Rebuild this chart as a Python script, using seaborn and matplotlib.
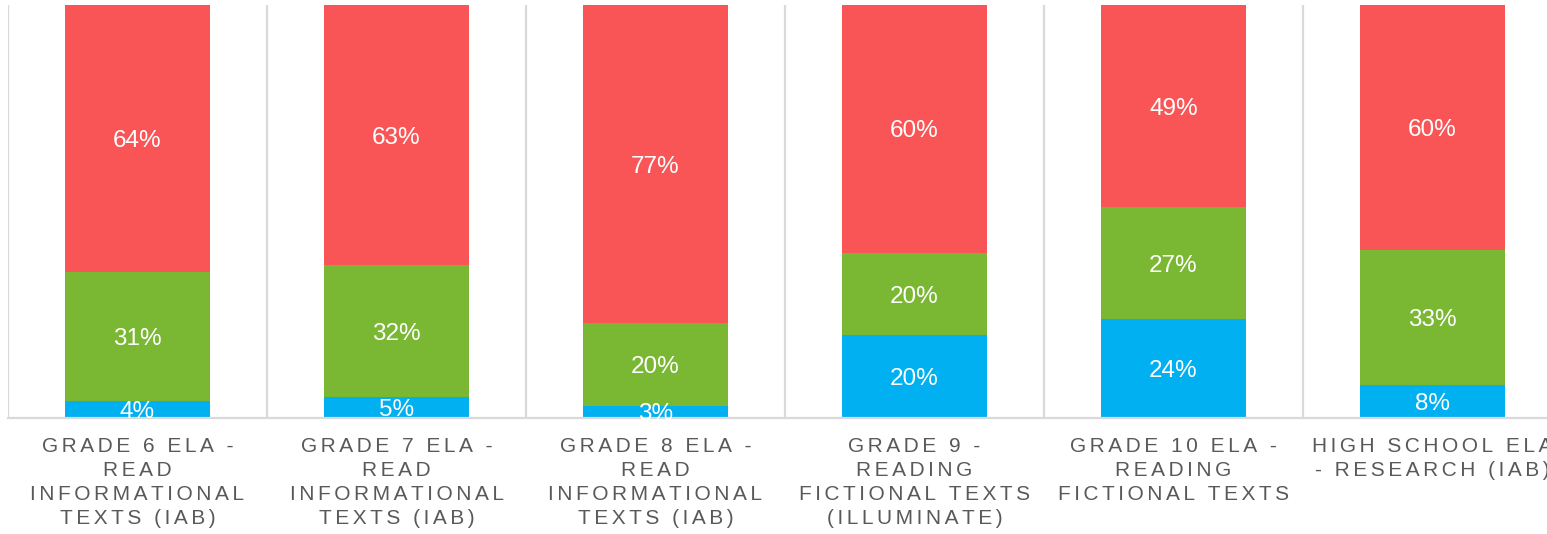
import numpy as np
import pandas as pd
import seaborn as sns
import matplotlib.pyplot as plt

# data (percent labels, bars are normalised to 100%)
categories = ["G6", "G7", "G8", "G9", "G10", "HS"]
tick_labels = [
    "GRADE 6 ELA -\nREAD\nINFORMATIONAL\nTEXTS (IAB)",
    "GRADE 7 ELA -\nREAD\nINFORMATIONAL\nTEXTS (IAB)",
    "GRADE 8 ELA -\nREAD\nINFORMATIONAL\nTEXTS (IAB)",
    "GRADE 9 -\nREADING\nFICTIONAL TEXTS\n(ILLUMINATE)",
    "GRADE 10 ELA -\nREADING\nFICTIONAL TEXTS",
    "HIGH SCHOOL ELA\n- RESEARCH (IAB)",
]
blue_vals = [4, 5, 3, 20, 24, 8]
green_vals = [31, 32, 20, 20, 27, 33]
red_vals = [64, 63, 77, 60, 49, 60]

blue_c = "#00B0F0"
green_c = "#7AB733"
red_c = "#F95557"
grid_c = "#D9D9D9"

sns.set_theme(style="white")
plt.rcParams['font.family'] = ['Liberation Sans', 'DejaVu Sans']

df = pd.DataFrame({"cat": categories, "blue": blue_vals,
                   "green": green_vals, "red": red_vals})
total = df[["blue", "green", "red"]].sum(axis=1)
df["b"] = df["blue"] / total * 100
df["g"] = df["green"] / total * 100
df["r"] = df["red"] / total * 100


def spaced(s):
    # fake letter spacing
    return "\n".join("\u2006".join(line) for line in s.split("\n"))


fig = plt.figure(figsize=(15.47, 5.34), dpi=100)
ax = fig.add_axes([8 / 1547, 116 / 534, 1554 / 1547, 413 / 534])

# stacked by overlaying cumulative totals
sns.barplot(data=df, x="cat", y=df["b"] + df["g"] + df["r"], color=red_c,
            width=0.56, saturation=1, linewidth=0, ax=ax)
sns.barplot(data=df, x="cat", y=df["b"] + df["g"], color=green_c,
            width=0.56, saturation=1, linewidth=0, ax=ax)
sns.barplot(data=df, x="cat", y="b", color=blue_c,
            width=0.56, saturation=1, linewidth=0, ax=ax)

for i, row in df.iterrows():
    segs = [(row["b"], row["blue"], 0),
            (row["g"], row["green"], row["b"]),
            (row["r"], row["red"], row["b"] + row["g"])]
    for h, lab, base in segs:
        ax.text(i, base + h / 2, f"{lab}%", ha="center",
                va="center_baseline", color="white", fontsize=17.5)

ax.set_xlim(-0.5, len(categories) - 0.5)
ax.set_ylim(0, 100)
ax.set_yticks([])
ax.set_xlabel("")
ax.set_ylabel("")

ax.set_xticks(range(len(categories)))
ax.set_xticklabels([spaced(t) for t in tick_labels], fontsize=15,
                   color="#595959", linespacing=1.35)
ax.tick_params(axis="x", length=0, pad=13.5)

ax.set_xticks(np.arange(-0.5, len(categories)), minor=True)
ax.tick_params(axis="x", which="minor", length=0)
ax.grid(which="minor", axis="x", color=grid_c, linewidth=1.6)
ax.set_axisbelow(True)

for side in ["top", "right", "left"]:
    ax.spines[side].set_visible(False)
ax.spines["bottom"].set_color(grid_c)
ax.spines["bottom"].set_linewidth(1.6)

fig.savefig("out.png", dpi=100)
